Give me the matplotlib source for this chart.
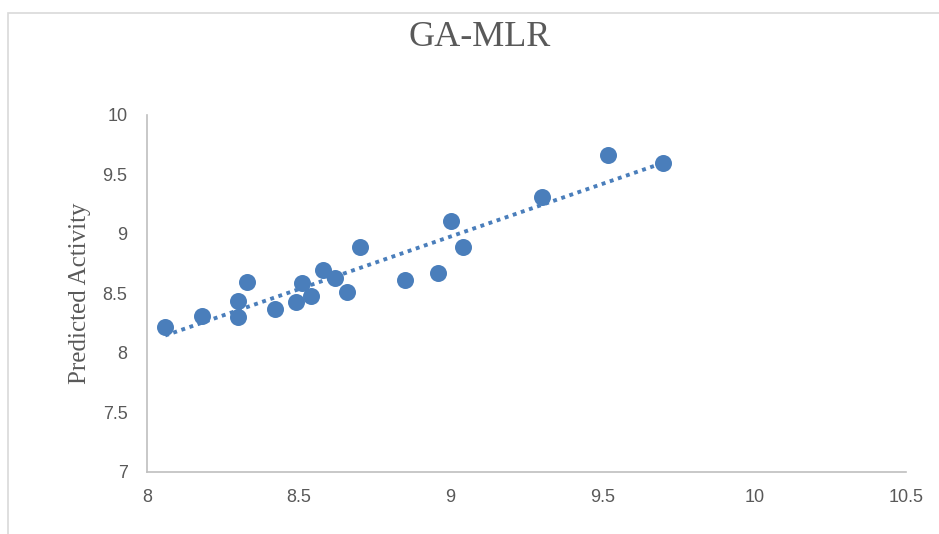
import matplotlib.pyplot as plt
import numpy as np

# observed (x) vs predicted (y) activity
observed = [8.06, 8.18, 8.30, 8.30, 8.33, 8.42, 8.49, 8.51, 8.54, 8.58,
            8.62, 8.66, 8.70, 8.85, 8.96, 9.00, 9.04, 9.30, 9.52, 9.70]
predicted = [8.22, 8.31, 8.44, 8.30, 8.60, 8.37, 8.43, 8.59, 8.48, 8.70,
             8.63, 8.51, 8.89, 8.61, 8.67, 9.11, 8.89, 9.31, 9.66, 9.60]
xticks = [8, 8.5, 9, 9.5, 10, 10.5]
yticks = [7, 7.5, 8, 8.5, 9, 9.5, 10]

blue = "#4a7ebb"
grey = "#595959"

fig = plt.figure(figsize=(9.39, 5.34), dpi=100)
ax = fig.add_axes([147 / 939, 1 - 472 / 534, (906 - 147) / 939, (472 - 115) / 534])

# light chart frame
fig.patches.append(plt.Rectangle((8 / 939, -0.1), 1.1, 1 - 13 / 534 + 0.1,
                                 transform=fig.transFigure, fill=False,
                                 edgecolor="#d9d9d9", linewidth=1.2))

ax.scatter(observed, predicted, s=150, color=blue, zorder=3, linewidths=0)

# linear trendline
m, b = np.polyfit(observed, predicted, 1)
xs = np.array([min(observed), max(observed)])
ax.plot(xs, m * xs + b, linestyle=(0, (1, 1.2)), color=blue, linewidth=2.8, zorder=2)

ax.set_xlim(8, 10.5)
ax.set_ylim(7, 10)
ax.set_xticks(xticks)
ax.set_yticks(yticks)
ax.set_xticklabels([f"{t:g}" for t in xticks])
ax.set_yticklabels([f"{t:g}" for t in yticks])
ax.tick_params(length=0, labelsize=13, colors=grey, pad=12)
ax.tick_params(axis="y", pad=14)
for lab in ax.get_xticklabels() + ax.get_yticklabels():
    lab.set_fontfamily(["Liberation Sans Narrow", "Liberation Sans"])

for side in ["top", "right"]:
    ax.spines[side].set_visible(False)
for side in ["left", "bottom"]:
    ax.spines[side].set_color("#bfbfbf")
    ax.spines[side].set_linewidth(1.2)

ax.set_ylabel("Predicted Activity", fontsize=18, color=grey,
              fontfamily="Liberation Serif", labelpad=8)
fig.text(480 / 939, 1 - 37 / 534, "GA-MLR", ha="center", va="center",
         fontsize=26, color=grey, fontfamily="Liberation Serif")

fig.savefig("out.png", dpi=100)
